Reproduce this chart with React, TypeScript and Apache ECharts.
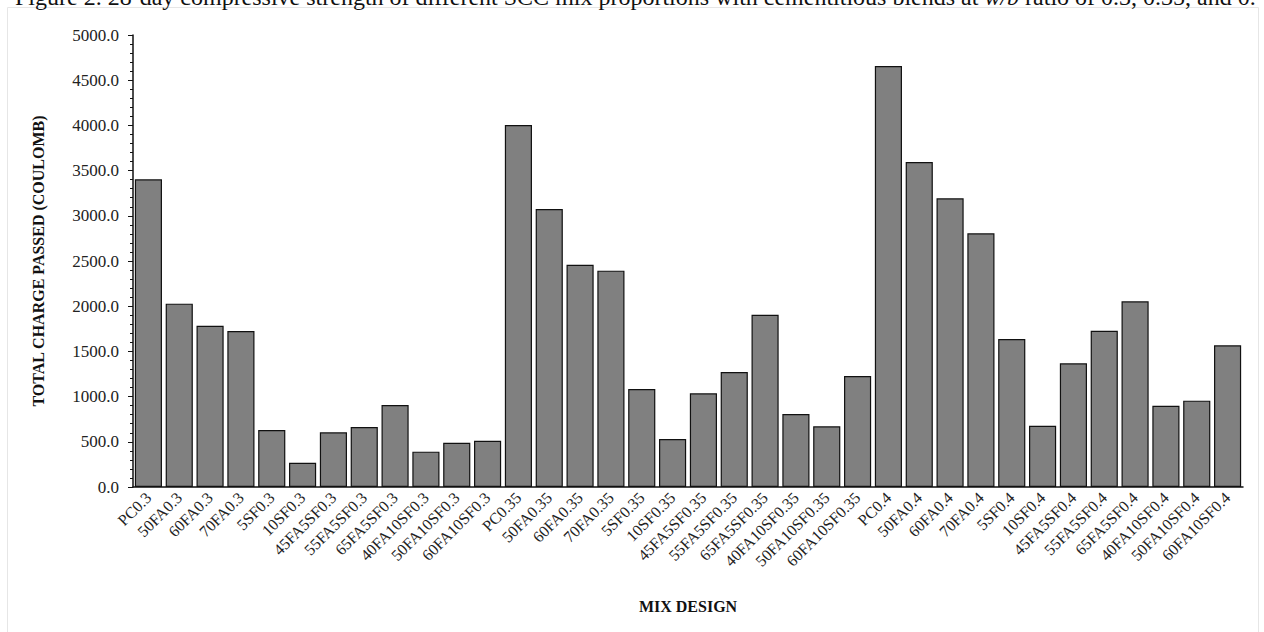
import React, { useEffect, useRef } from "react";
import * as echarts from "echarts";

const categories = [
  "PC0.3", "50FA0.3", "60FA0.3", "70FA0.3", "5SF0.3", "10SF0.3", "45FA5SF0.3", "55FA5SF0.3", "65FA5SF0.3", "40FA10SF0.3", "50FA10SF0.3", "60FA10SF0.3",
  "PC0.35", "50FA0.35", "60FA0.35", "70FA0.35", "5SF0.35", "10SF0.35", "45FA5SF0.35", "55FA5SF0.35", "65FA5SF0.35", "40FA10SF0.35", "50FA10SF0.35", "60FA10SF0.35",
  "PC0.4", "50FA0.4", "60FA0.4", "70FA0.4", "5SF0.4", "10SF0.4", "45FA5SF0.4", "55FA5SF0.4", "65FA5SF0.4", "40FA10SF0.4", "50FA10SF0.4", "60FA10SF0.4",
];

const chargePassed = [
  3404, 2028, 1784, 1726, 630, 269, 605, 664, 907, 391, 490, 512,
  4004, 3075, 2459, 2393, 1084, 531, 1036, 1272, 1906, 808, 671, 1228,
  4657, 3595, 3193, 2806, 1637, 678, 1368, 1729, 2054, 899, 955, 1567,
];

const yAxisTitle = "TOTAL CHARGE PASSED (COULOMB)";
const xAxisTitle = "MIX DESIGN";
const captionParts = [
  "Figure 2.",
  " 28-day compressive strength of different SCC mix proportions with cementitious blends at ",
  "w/b",
  " ratio of 0.3, 0.35, and 0.",
];

const FONT = "'Liberation Serif', 'Times New Roman', serif";

export default function App() {
  const ref = useRef<HTMLDivElement>(null);

  useEffect(() => {
    if (!ref.current) return;
    const chart = echarts.init(ref.current, null, { renderer: "svg" });
    chart.setOption({
      animation: false,
      backgroundColor: "#ffffff",
      textStyle: { fontFamily: FONT },
      graphic: [
        {
          type: "rect",
          shape: { x: 7.5, y: 7.5, width: 1251, height: 640 },
          style: { fill: "none", stroke: "#e6e6e6", lineWidth: 1 },
          silent: true,
        },
        {
          type: "text",
          x: 15,
          y: -3,
          style: {
            text:
              captionParts[0] + captionParts[1] + "{i|" + captionParts[2] + "}" + captionParts[3],
            font: "24px " + FONT,
            fill: "#111",
            verticalAlign: "middle",
            align: "left",
            rich: {
              i: { fontStyle: "italic", fontSize: 24, fontFamily: FONT, fill: "#111" },
            },
          },
          silent: true,
        },
      ],
      grid: { left: 133, right: 21, top: 35, bottom: 145, containLabel: false },
      xAxis: {
        type: "category",
        data: categories,
        name: xAxisTitle,
        nameLocation: "middle",
        nameGap: 111,
        nameTextStyle: { fontFamily: FONT, fontWeight: "bold", fontSize: 16, color: "#111" },
        axisLine: { lineStyle: { color: "#111", width: 1.5 } },
        axisTick: { alignWithLabel: true, length: 4, lineStyle: { color: "#111" } },
        axisLabel: {
          rotate: 45,
          interval: 0,
          margin: 8,
          fontFamily: FONT,
          fontSize: 16,
          color: "#222",
        },
      },
      yAxis: {
        type: "value",
        min: 0,
        max: 5000,
        interval: 500,
        name: yAxisTitle,
        nameLocation: "middle",
        nameGap: 87,
        nameTextStyle: { fontFamily: FONT, fontWeight: "bold", fontSize: 16, color: "#111" },
        axisLine: { show: true, lineStyle: { color: "#111", width: 1.5 } },
        axisTick: { show: true, length: 5, lineStyle: { color: "#111" } },
        minorTick: { show: true, splitNumber: 5, length: 3, lineStyle: { color: "#111" } },
        splitLine: { show: false },
        axisLabel: {
          margin: 14,
          fontFamily: FONT,
          fontSize: 17,
          color: "#222",
          formatter: (v: number) => v.toFixed(1),
        },
      },
      series: [
        {
          type: "bar",
          data: chargePassed,
          barCategoryGap: "12%",
          itemStyle: { color: "#808080", borderColor: "#111", borderWidth: 1.2 },
        },
      ],
    });
    return () => chart.dispose();
  }, []);

  return (
    <div
      ref={ref}
      style={{ position: "absolute", left: 0, top: 0, width: 1264, height: 632 }}
    />
  );
}
